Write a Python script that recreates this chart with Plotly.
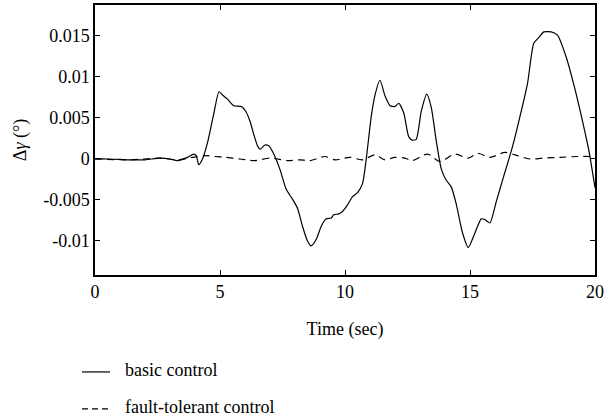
import plotly.graph_objects as go

# basic control
t_basic = [0, 0.5, 1.0, 1.4, 2.0, 2.6, 3.0, 3.3, 3.7, 3.95, 4.05, 4.15, 4.3, 4.5, 4.75, 4.96,
           5.1, 5.3, 5.55, 5.85, 6.05, 6.2, 6.35, 6.5, 6.6, 6.8, 6.95, 7.15, 7.4, 7.65, 7.9,
           8.1, 8.3, 8.5, 8.65, 8.85, 9.05, 9.25, 9.45, 9.55, 9.75, 9.9, 10.1, 10.3, 10.5,
           10.7, 10.85, 11.05, 11.2, 11.4, 11.6, 11.8, 12.0, 12.15, 12.35, 12.55, 12.7, 12.85,
           13.05, 13.27, 13.45, 13.65, 13.85, 14.05, 14.25, 14.45, 14.7, 14.93, 15.2, 15.45,
           15.6, 15.8, 16.05, 16.35, 16.7, 17.0, 17.3, 17.55, 17.75, 17.95, 18.25, 18.5, 18.85,
           19.15, 19.45, 19.75, 20.0]
y_basic = [0, 0.0, -0.00005, -0.0001, -0.0001, 0.0001, 0.0, -0.0002, 0.0002, 0.0006, 0.0004,
           -0.0007, 0.0, 0.002, 0.0055, 0.0082, 0.0078, 0.0073, 0.0065, 0.0064, 0.0057, 0.0046,
           0.003, 0.0016, 0.0012, 0.0017, 0.0016, 0.0006, -0.0013, -0.0037, -0.0049, -0.006,
           -0.0082, -0.0100, -0.0106, -0.0098, -0.0082, -0.0073, -0.0072, -0.0068, -0.0067,
           -0.0064, -0.0056, -0.0046, -0.0041, -0.0030, 0.0, 0.0052, 0.0078, 0.0096, 0.0077,
           0.0065, 0.0064, 0.0068, 0.0056, 0.0027, 0.0023, 0.0024, 0.0058, 0.0079, 0.0063,
           0.0022, -0.0012, -0.0026, -0.0034, -0.0055, -0.0090, -0.0108, -0.0090, -0.0073,
           -0.0074, -0.0078, -0.0052, -0.0021, 0.0015, 0.0052, 0.0092, 0.0141, 0.0148, 0.0155,
           0.0155, 0.0151, 0.0124, 0.0091, 0.0053, 0.0011, -0.0035]

# fault-tolerant control
t_ft = [0, 1.4, 2.6, 3.3, 3.9, 4.4, 4.8, 5.2, 5.8, 6.4, 7.0, 7.7, 8.2, 8.6, 9.2, 9.6, 10.2,
        10.7, 11.2, 11.6, 12.0, 12.4, 12.7, 13.3, 13.8, 14.4, 14.93, 15.3, 15.8, 16.4, 16.8,
        17.4, 17.9, 18.6, 19.3, 20.0]
y_ft = [0, -0.0001, 0.0001, -0.0001, 0.0002, 0.0004, 0.0003, 0.0002, 0.0, -0.0002, 0.0001,
        -0.0002, -0.0001, -0.0002, 0.0003, -0.0001, 0.0002, -0.0001, 0.0005, -0.0001, 0.0002,
        0.0001, -0.0002, 0.0006, -0.0003, 0.0006, 0.0001, 0.0007, 0.0002, 0.0008, 0.0005,
        0.0, 0.0001, 0.0002, 0.0003, 0.0003]

x_ticks = [0, 5, 10, 15, 20]
y_ticks = [-0.01, -0.005, 0, 0.005, 0.01, 0.015]
y_tick_labels = ["-0.01", "-0.005", "0", "0.005", "0.01", "0.015"]
series_names = ["basic control", "fault-tolerant control"]

FONT = "Liberation Serif, DejaVu Serif, serif"

fig = go.Figure()
fig.add_trace(go.Scatter(x=t_basic, y=y_basic, mode="lines", name=series_names[0],
                         line=dict(color="black", width=1.2, shape="spline", smoothing=0.6)))
fig.add_trace(go.Scatter(x=t_ft, y=y_ft, mode="lines", name=series_names[1],
                         line=dict(color="black", width=1.2, dash="7px,5px", shape="spline", smoothing=0.8)))

axis_common = dict(showline=True, linecolor="black", linewidth=1.5, mirror="ticks",
                   ticks="inside", ticklen=5, tickwidth=1, tickcolor="black",
                   showgrid=False, zeroline=False, automargin=False)

fig.update_xaxes(range=[0, 20], tickvals=x_ticks,
                 title=dict(text="Time (sec)", standoff=21, font=dict(size=18)),
                 **axis_common)
fig.update_yaxes(range=[-0.01415, 0.01878], tickvals=y_ticks, ticktext=y_tick_labels,
                 title=dict(text="&#916;<i>&#947;</i> (&#176;)", standoff=12, font=dict(size=18)),
                 **axis_common)

# legend drawn as key lines + text labels below the plot
legend_rows = [(-0.352, -0.359, "solid"), (-0.489, -0.496, "6px,4px")]
for name, (ty, ly, dash) in zip(series_names, legend_rows):
    fig.add_annotation(x=0.056, y=ty, xref="paper", yref="paper", text=name,
                       showarrow=False, xanchor="left", yanchor="middle",
                       font=dict(family=FONT, size=18, color="black"))
    fig.add_shape(type="line", xref="paper", yref="paper", x0=-0.026, x1=0.030, y0=ly, y1=ly,
                  line=dict(color="black", width=1.2, dash=dash))

fig.update_layout(
    width=605, height=419,
    margin=dict(l=95, r=10, t=5, b=144),
    plot_bgcolor="white",
    font=dict(family=FONT, size=18, color="black"),
    showlegend=False,
)

fig.write_html("out.html")
